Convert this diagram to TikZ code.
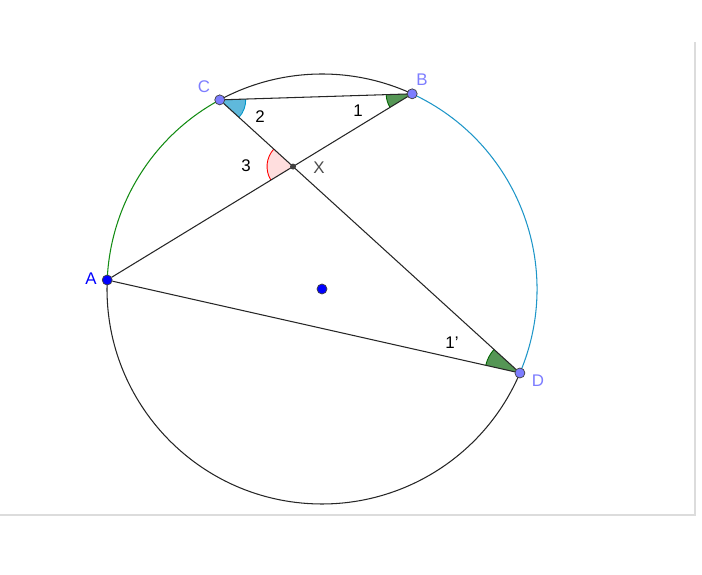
\documentclass[tikz,border=0pt]{standalone}
\usepackage{fontspec}
\setmainfont{Liberation Sans}
\usetikzlibrary{angles,backgrounds}

\definecolor{ptpurple}{RGB}{125,125,255}
\definecolor{arcgreen}{RGB}{20,140,20}
\definecolor{arcteal}{RGB}{30,150,200}
\definecolor{angblue}{RGB}{95,185,220}
\definecolor{angblueline}{RGB}{0,150,200}
\definecolor{anggreen}{RGB}{85,150,85}
\definecolor{anggreenline}{RGB}{0,100,0}
\definecolor{angred}{RGB}{255,222,222}
\definecolor{framegray}{RGB}{220,220,220}

\tikzset{
  pt/.style={circle, inner sep=0pt, minimum size=0.2cm, draw=black!75, line width=0.4pt, fill=ptpurple},
  lbl/.style={font=\fontsize{9.6}{11}\selectfont},
  chord/.style={line width=0.6pt, black!85}
}

\begin{document}
\begin{tikzpicture}

\useasboundingbox (-6.44,5.78) rectangle (7.60,-5.72);
\draw[framegray, line width=0.6pt] (-6.44,-4.52) -- (7.46,-4.52) -- (7.46,4.94);

\coordinate (X) at (intersection of 118.4:4.3--{-23}:4.3 and 177.6:4.3--65.2:4.3);

\node[pt] (C) at (118.4:4.3) {};
\node[pt] (B) at (65.2:4.3) {};
\node[pt, fill=blue] (A) at (177.6:4.3) {};
\node[pt] (D) at (-23:4.3) {};
\node[pt, fill=blue] (O) at (0,0) {};
\node[circle, inner sep=0pt, minimum size=0.12cm, fill=black!75] (Xp) at (X) {};

\begin{scope}[on background layer]
\pic[fill=angblue, draw=angblueline, line width=0.5pt, angle radius=0.52cm] {angle=D--C--B};
\pic[fill=anggreen, draw=anggreenline, line width=0.5pt, angle radius=0.52cm] {angle=C--B--A};
\pic[fill=angred, draw=red, line width=0.5pt, angle radius=0.52cm] {angle=C--X--A};
\pic[fill=anggreen, draw=anggreenline, line width=0.5pt, angle radius=0.7cm] {angle=C--D--A};

\draw[arcgreen, line width=0.6pt] (118.4:4.3) arc[start angle=118.4, end angle=177.6, radius=4.3];
\draw[arcteal, line width=0.6pt] (65.2:4.3) arc[start angle=65.2, end angle=-23, radius=4.3];
\draw[black!85, line width=0.6pt] (177.6:4.3) arc[start angle=177.6, end angle=337, radius=4.3];
\draw[black!85, line width=0.6pt] (65.2:4.3) arc[start angle=65.2, end angle=118.4, radius=4.3];

\draw[chord] (C) -- (B);
\draw[chord] (C) -- (D);
\draw[chord] (A) -- (B);
\draw[chord] (A) -- (D);
\end{scope}

\node[lbl, text=ptpurple] (lC) at (-2.36,4.04) {C};
\node[lbl, text=ptpurple] (lB) at (2.0,4.18) {B};
\node[lbl, text=blue] (lA) at (-4.62,0.2) {A};
\node[lbl, text=ptpurple] (lD) at (4.32,-1.84) {D};
\node[lbl, text=black!70] (lX) at (-0.06,2.42) {X};
\node[lbl] (n2) at (-1.24,3.44) {2};
\node[lbl] (n1) at (0.72,3.56) {1};
\node[lbl] (n3) at (-1.52,2.46) {3};
\node[lbl] (n1p) at (2.6,-1.08) {1'};

\end{tikzpicture}
\end{document}
